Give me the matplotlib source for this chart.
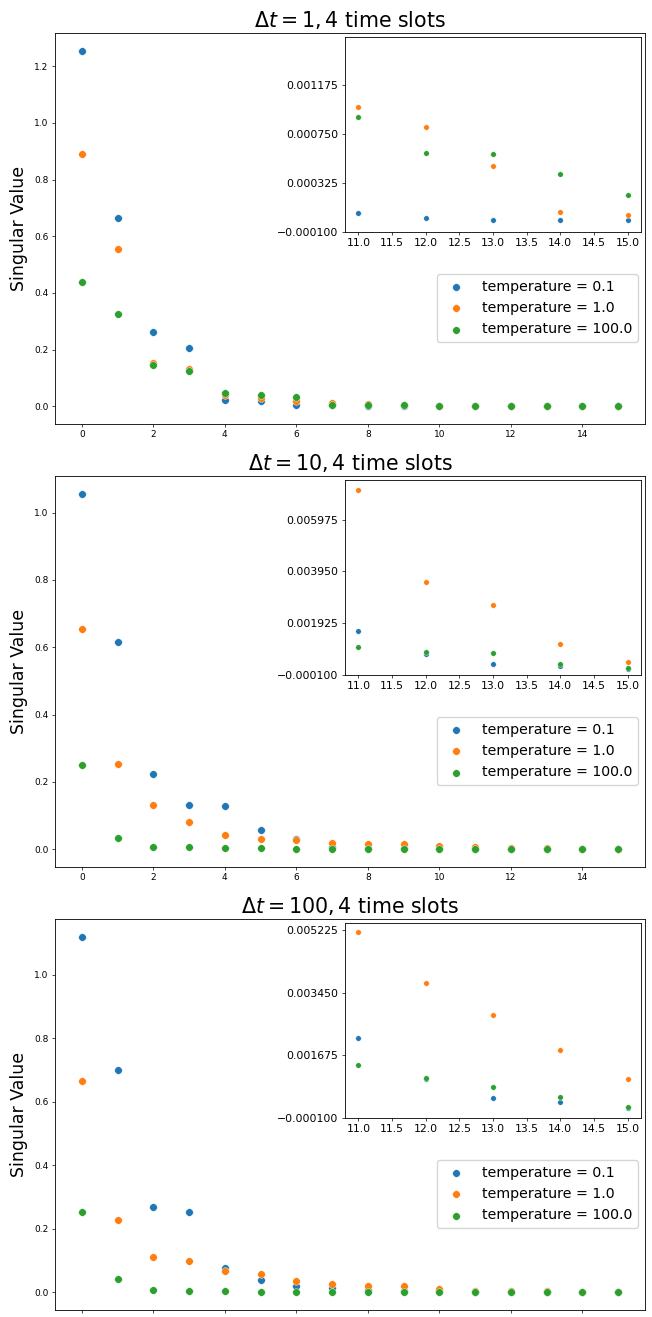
import numpy as np
import matplotlib
matplotlib.use("Agg")
import matplotlib.pyplot as plt

# singular values, index 0..15, one list per temperature, per time step
idx = np.arange(16)
temps = ["0.1", "1.0", "100.0"]
dts = [1, 10, 100]

sv_dt1_t01 = [1.255, 0.663, 0.261, 0.204, 0.0235, 0.019, 0.0035, 0.004, 0.002, 0.0015, 0.001,
              0.000061, 0.00002, 0.000008, 0.000003, 0.000003]
sv_dt1_t1 = [0.892, 0.554, 0.154, 0.131, 0.041, 0.029, 0.0176, 0.013, 0.008, 0.003, 0.002,
             0.000987, 0.000809, 0.000469, 0.00007, 0.000044]
sv_dt1_t100 = [0.439, 0.324, 0.144, 0.123, 0.048, 0.040, 0.034, 0.0035, 0.0035, 0.003, 0.0025,
               0.0009, 0.000589, 0.000577, 0.000407, 0.000222]

sv_dt10_t01 = [1.056, 0.617, 0.225, 0.132, 0.128, 0.057, 0.030, 0.006, 0.004, 0.003, 0.0025,
               0.001623, 0.000715, 0.000321, 0.000242, 0.000124]
sv_dt10_t1 = [0.655, 0.253, 0.132, 0.080, 0.0425, 0.0306, 0.0267, 0.0199, 0.0157, 0.0148, 0.0099,
              0.007145, 0.003556, 0.002635, 0.001123, 0.000426]
sv_dt10_t100 = [0.251, 0.0346, 0.0079, 0.006, 0.004, 0.004, 0.002, 0.002, 0.0015, 0.0013, 0.0011,
                0.001005, 0.000794, 0.000742, 0.00032, 0.000176]

sv_dt100_t01 = [1.119, 0.701, 0.267, 0.254, 0.0765, 0.040, 0.021, 0.014, 0.008, 0.005, 0.003,
                0.002178, 0.00102, 0.00046, 0.000346, 0.000175]
sv_dt100_t1 = [0.666, 0.227, 0.111, 0.0975, 0.066, 0.0566, 0.0356, 0.026, 0.021, 0.019, 0.0094,
               0.005187, 0.003735, 0.002833, 0.001817, 0.00102]
sv_dt100_t100 = [0.2516, 0.042, 0.0084, 0.0042, 0.004, 0.002, 0.002, 0.002, 0.0015, 0.0015, 0.0014,
                 0.001409, 0.00103, 0.000783, 0.000498, 0.000204]

panels = [
    [sv_dt1_t01, sv_dt1_t1, sv_dt1_t100],
    [sv_dt10_t01, sv_dt10_t1, sv_dt10_t100],
    [sv_dt100_t01, sv_dt100_t1, sv_dt100_t100],
]

# inset y ticks / limits
inset_ticks = [
    [-0.0001, 0.000325, 0.00075, 0.001175],
    [-0.0001, 0.001925, 0.00395, 0.005975],
    [-0.0001, 0.001675, 0.00345, 0.005225],
]
inset_top = [0.00159, 0.00753, 0.00543]

colors = ["#1f77b4", "#ff7f0e", "#2ca02c"]

W, H = 652, 1317
fig = plt.figure(figsize=(W / 100, H / 100), dpi=100)


def px_box(left, top, right, bottom):
    # pixel box -> figure fraction rect
    return [left / W, 1 - bottom / H, (right - left) / W, (bottom - top) / H]


tops = [33, 476, 919]
ax_h = 391

for i, (dt, series) in enumerate(zip(dts, panels)):
    top = tops[i]
    ax = fig.add_axes(px_box(55, top, 645, top + ax_h))
    for vals, t, c in zip(series, temps, colors):
        ax.scatter(idx, vals, s=30, color=c, edgecolors="white", linewidths=0.3,
                   label=f"temperature = {t}")
    ax.set_title(rf"$\Delta t = {dt}, 4$ time slots", fontsize=14.8, pad=4)
    ax.set_ylabel("Singular Value", fontsize=12.5)
    ax.yaxis.set_label_coords(-0.046, 0.5)
    ax.tick_params(labelsize=6.5, length=2.3, width=0.5, pad=2.3)
    if i == 2:
        # the bottom row's tick labels fall below the picture edge
        ax.tick_params(labelbottom=False)
    for sp in ax.spines.values():
        sp.set_linewidth(0.6)
    ax.legend(loc="lower right", bbox_to_anchor=(0.988, 0.21), borderaxespad=0,
              fontsize=10.2)

    ins = fig.add_axes(px_box(345, top + 4, 641, top + 4 + 195))
    for vals, c in zip(series, colors):
        ins.scatter(idx[11:], vals[11:], s=16, color=c, edgecolors="white", linewidths=0.3)
    ins.set_ylim(-0.0001, inset_top[i])
    ins.set_yticks(inset_ticks[i])
    ins.set_yticklabels([f"{v:.6f}".replace("-", "\u2212") for v in inset_ticks[i]])
    ins.tick_params(labelsize=7.8, length=2.3, width=0.5, pad=2.3)
    for sp in ins.spines.values():
        sp.set_linewidth(0.6)

fig.savefig("out.png", dpi=100)
